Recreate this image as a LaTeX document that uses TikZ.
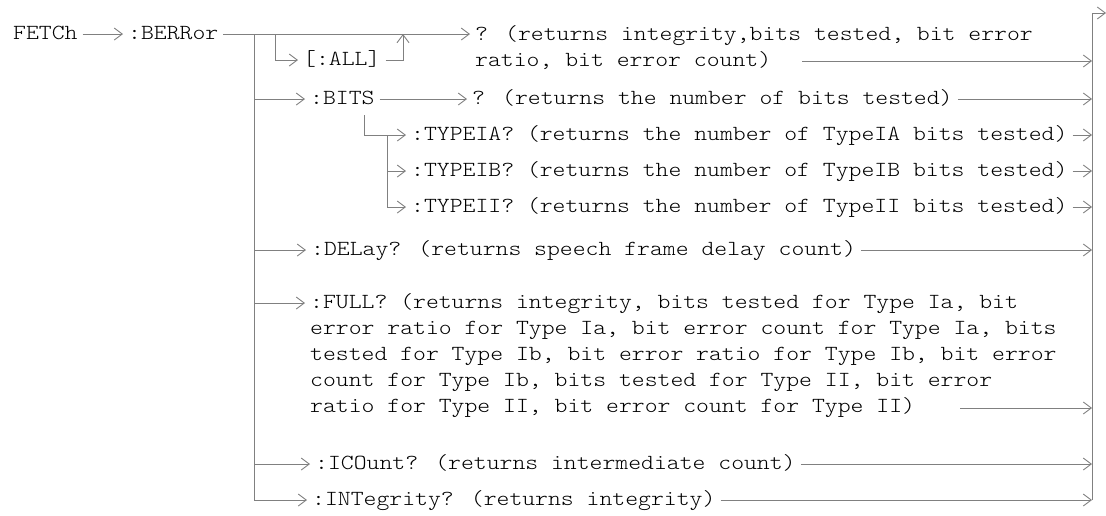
\documentclass[tikz,border=0pt]{standalone}
\usepackage{fontspec}
\usepackage{xcolor}
\usepackage{tikz}
\usetikzlibrary{arrows.meta, positioning, calc}
\newfontfamily\cmdfont{lmmonolt10-regular.otf}[FakeStretch=1.14]
\definecolor{wiregray}{RGB}{128,128,128}

\begin{document}
\begin{tikzpicture}[x=1pt, y=-1pt,
  cmd/.style={font=\cmdfont\fontsize{21.5}{26}\selectfont, anchor=west,
              inner xsep=5pt, inner ysep=0pt, text height=10pt, text depth=0pt},
  mcmd/.style={font=\cmdfont\fontsize{21.5}{26}\selectfont, anchor=base west,
               inner xsep=5pt, inner ysep=0pt, align=left},
  arr/.style={-{Straight Barb[length=8pt, width=12pt]}, line width=0.9pt, wiregray},
]
  \useasboundingbox (0,0) rectangle (1106,515);

  \node[cmd]  (fetch) at (8,34)    {FETCh};
  \node[cmd]  (berr)  at (123,34)  {:BERRor};
  \node[mcmd] (qall)  at (470,66)  {? (returns integrity,bits tested, bit error\\ratio, bit error count)};
  \node[cmd]  (all)   at (298,60)  {[:ALL]};
  \node[cmd]  (bits)  at (305,99)  {:BITS};
  \node[cmd]  (qbits) at (467,99)  {? (returns the number of bits tested)};
  \node[cmd]  (tia)   at (406,135) {:TYPEIA? (returns the number of TypeIA bits tested)};
  \node[cmd]  (tib)   at (406,171) {:TYPEIB? (returns the number of TypeIB bits tested)};
  \node[cmd]  (tii)   at (406,207) {:TYPEII? (returns the number of TypeII bits tested)};
  \node[cmd]  (del)   at (306,250) {:DELay? (returns speech frame delay count)};
  \node[mcmd] (full)  at (305,412) {:FULL? (returns integrity, bits tested for Type Ia, bit\\
    error ratio for Type Ia, bit error count for Type Ia, bits\\
    tested for Type Ib, bit error ratio for Type Ib, bit error\\
    count for Type Ib, bits tested for Type II, bit error\\
    ratio for Type II, bit error count for Type II)};
  \node[cmd]  (icnt)  at (310,464) {:ICOunt? (returns intermediate count)};
  \node[cmd]  (integ) at (307,500) {:INTegrity? (returns integrity)};

  \coordinate (tr)       at (254,34);
  \coordinate (allsplit) at (275,34);
  \coordinate (alljoin)  at (403,34);
  \coordinate (bitsdown) at (364,115);
  \coordinate (subbus)   at (387,135);
  \coordinate (fullin)   at ([yshift=109pt]full.base west);
  \coordinate (qallend)  at (802,61);
  \coordinate (fullend)  at (960,408);
  \coordinate (bus)      at (1092,13);
  \coordinate (exit)     at (1106,13);

  \draw[arr] (fetch) -- (berr);
  \draw[arr] (berr) -- (qall.west |- berr);
  \draw[arr] (allsplit) |- (all);
  \draw[arr] (all) -| (alljoin);

  % trunk and branches
  \draw[arr] (tr) |- (integ);
  \draw[arr] (tr |- bits) -- (bits);
  \draw[arr] (tr |- del) -- (del);
  \draw[arr] (tr |- fullin) -- (fullin);
  \draw[arr] (tr |- icnt) -- (icnt);
  \draw[arr] (bits) -- (qbits);
  \draw[arr] (bitsdown) |- (tia);
  \draw[arr] (subbus) |- (tib);
  \draw[arr] (subbus) |- (tii);

  % right bus
  \draw[arr] (bus |- integ) -- (bus) -- (exit);
  \draw[arr] (qallend) -- (qallend -| bus);
  \draw[arr] (qbits) -- (qbits -| bus);
  \draw[arr] (tia) -- (tia -| bus);
  \draw[arr] (tib) -- (tib -| bus);
  \draw[arr] (tii) -- (tii -| bus);
  \draw[arr] (del) -- (del -| bus);
  \draw[arr] (fullend) -- (fullend -| bus);
  \draw[arr] (icnt) -- (icnt -| bus);
  \draw[arr] (integ) -- (integ -| bus);
\end{tikzpicture}
\end{document}
